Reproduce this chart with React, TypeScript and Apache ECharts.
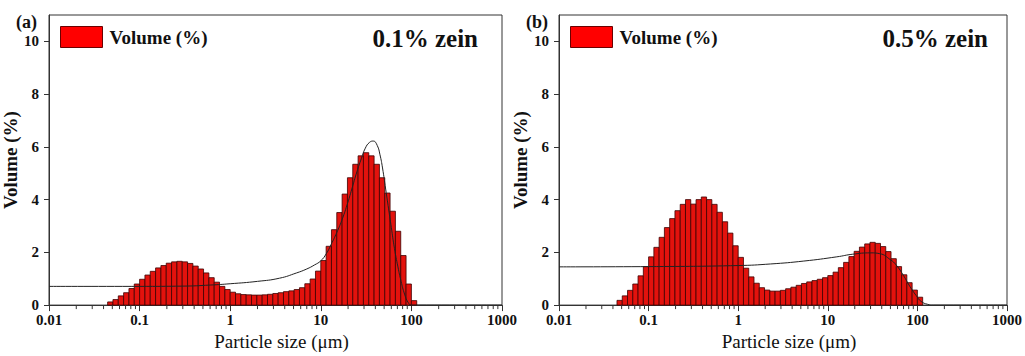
import React, { useEffect, useRef } from "react";
import * as echarts from "echarts";

// Size-class edges (µm) of the histogram bins
const sizeEdges = [
  0.04437, 0.0508, 0.05817, 0.06661, 0.07627, 0.08733,
  0.1, 0.1145, 0.1311, 0.1501, 0.1719, 0.1968, 0.2254, 0.2581, 0.2955, 0.3384,
  0.3875, 0.4437, 0.508, 0.5817, 0.6661, 0.7627, 0.8734,
  1, 1.145, 1.311, 1.501, 1.719, 1.968, 2.254, 2.581, 2.955, 3.384,
  3.875, 4.437, 5.08, 5.817, 6.661, 7.627, 8.734,
  10, 11.45, 13.11, 15.01, 17.19, 19.68, 22.54, 25.81, 29.55, 33.84,
  38.75, 44.37, 50.8, 58.17, 66.61, 76.27, 87.34,
  100, 114.5,
];

// Volume (%) per size class – panel (a) 0.1% zein
const volumeA = [
  0.12, 0.21, 0.35, 0.47, 0.63, 0.8,
  0.98, 1.14, 1.28, 1.41, 1.5, 1.59, 1.64, 1.66, 1.64, 1.58,
  1.48, 1.37, 1.22, 1.04, 0.87, 0.71, 0.59,
  0.49, 0.43, 0.4, 0.39, 0.38, 0.38, 0.39, 0.41, 0.44, 0.47,
  0.51, 0.54, 0.59, 0.66, 0.81, 0.99, 1.29,
  1.69, 2.23, 2.86, 3.51, 4.21, 4.83, 5.34, 5.66, 5.78, 5.66,
  5.34, 4.83, 4.25, 3.56, 2.8, 1.88, 0.8,
  0.17,
];

// Volume (%) per size class – panel (b) 0.5% zein
const volumeB = [
  0.18, 0.35, 0.56, 0.8, 1.11, 1.46,
  1.83, 2.19, 2.57, 2.94, 3.28, 3.58, 3.82, 4.0, 3.83, 4.0,
  4.1, 4.0, 3.82, 3.52, 3.16, 2.73, 2.25,
  1.81, 1.4, 1.07, 0.83, 0.66, 0.57, 0.53, 0.53, 0.56, 0.62,
  0.68, 0.75, 0.82, 0.88, 0.93, 0.98, 1.04,
  1.12, 1.25, 1.42, 1.62, 1.84, 2.04, 2.2, 2.32, 2.38, 2.34,
  2.22, 2.03, 1.76, 1.46, 1.15, 0.85, 0.57,
  0.3,
];

// Fitted curves [size µm, volume %]
const fitA: [number, number][] = [
  [0.01, 0.71], [0.1, 0.71], [0.3, 0.72], [0.6, 0.76], [1, 0.81], [2, 0.9],
  [3.5, 1.02], [5.4, 1.22], [7, 1.37], [8.5, 1.52], [10, 1.68], [11.5, 1.95],
  [13, 2.3], [15, 2.75], [17, 3.2], [19.5, 3.8], [22, 4.4], [25, 5.05],
  [28, 5.55], [31, 5.95], [34.5, 6.17], [38, 6.22], [42, 6.05], [45, 5.7],
  [48, 5.2], [52, 4.4], [56, 3.65], [60, 2.95], [65, 2.15], [71, 1.45],
  [77, 0.9], [84, 0.42], [92, 0.1], [100, 0], [120, 0], [1000, 0],
];
const fitB: [number, number][] = [
  [0.01, 1.45], [0.1, 1.46], [1, 1.5], [2.3, 1.56], [5.4, 1.67], [12.6, 1.83],
  [19, 1.93], [30, 1.98], [38, 1.95], [50, 1.72], [58, 1.52], [70, 1.12],
  [82, 0.72], [97, 0.36], [110, 0.14], [130, 0.03], [150, 0], [1000, 0],
];

const xTickLabels = ["0.01", "0.1", "1", "10", "100", "1000"];
const yTickValues = [0, 2, 4, 6, 8, 10];
const minorTickValues = [
  0.02, 0.03, 0.04, 0.05, 0.06, 0.07, 0.08, 0.09,
  0.2, 0.3, 0.4, 0.5, 0.6, 0.7, 0.8, 0.9,
  2, 3, 4, 5, 6, 7, 8, 9,
  20, 30, 40, 50, 60, 70, 80, 90,
  200, 300, 400, 500, 600, 700, 800, 900,
];
const panelLabels = ["(a)", "(b)"];
const panelTitles = ["0.1% zein", "0.5% zein"];
const seriesName = "Volume (%)";
const xName = "Particle size (\u03bcm)";
const yName = "Volume (%)";

const FONT = "Liberation Serif, Times New Roman, serif";

export default function App() {
  const ref = useRef<HTMLDivElement>(null);

  useEffect(() => {
    if (!ref.current) return;
    const chart = echarts.init(ref.current, null, { renderer: "svg" });

    const panels = [
      { left: 49, volume: volumeA, fit: fitA },
      { left: 559, volume: volumeB, fit: fitB },
    ];

    const grids = panels.map((p) => ({
      left: p.left,
      top: 15,
      width: 453,
      height: 304,
      show: true,
      borderColor: "#333",
      borderWidth: 1,
      backgroundColor: "transparent",
    }));

    const xAxes = panels.map((_, i) => ({
      type: "log",
      logBase: 10,
      gridIndex: i,
      min: 0.01,
      max: 1000,
      name: xName,
      nameLocation: "middle",
      nameGap: 16,
      nameTextStyle: {
        fontFamily: FONT,
        fontSize: 19,
        color: "#111",
        padding: [0, 0, 0, 12],
      },
      axisLine: { show: true, lineStyle: { color: "#333", width: 1 } },
      axisTick: { show: true, inside: false, length: 6, lineStyle: { color: "#333" } },
      axisLabel: {
        margin: 7,
        fontFamily: FONT,
        fontWeight: "bold",
        fontSize: 15,
        color: "#111",
        formatter: (v: number) => xTickLabels[Math.round(Math.log10(v)) + 2] ?? "",
      },
      splitLine: { show: false },
    }));

    const yAxes = panels.map((_, i) => ({
      type: "value",
      gridIndex: i,
      min: 0,
      max: 11,
      name: yName,
      nameLocation: "middle",
      nameGap: 21,
      nameRotate: 90,
      nameTextStyle: {
        fontFamily: FONT,
        fontWeight: "bold",
        fontSize: 19,
        color: "#111",
      },
      axisLine: { show: true, lineStyle: { color: "#333", width: 1 } },
      axisTick: {
        show: true,
        inside: false,
        length: 5,
        customValues: yTickValues,
        lineStyle: { color: "#333" },
      },
      axisLabel: {
        margin: 10,
        customValues: yTickValues,
        fontFamily: FONT,
        fontWeight: "bold",
        fontSize: 15,
        color: "#111",
      },
      splitLine: { show: false },
    }));

    const series: any[] = [];
    panels.forEach((p, i) => {
      series.push({
        type: "custom",
        name: seriesName,
        xAxisIndex: i,
        yAxisIndex: i,
        data: p.volume.map((v, k) => [sizeEdges[k], sizeEdges[k + 1], v]),
        encode: { x: [0, 1], y: 2 },
        itemStyle: { color: "#ff0000", borderColor: "#6b0000", borderWidth: 1 },
        renderItem: (_params: any, api: any) => {
          const p0 = api.coord([api.value(0), api.value(2)]);
          const p1 = api.coord([api.value(1), 0]);
          return {
            type: "rect",
            shape: {
              x: p0[0],
              y: p0[1],
              width: p1[0] - p0[0],
              height: p1[1] - p0[1],
            },
            style: { fill: "#e3120d", stroke: "#3d0000", lineWidth: 0.8 },
          };
        },
        z: 2,
      });
      series.push({
        type: "custom",
        xAxisIndex: i,
        yAxisIndex: i,
        silent: true,
        clip: false,
        data: minorTickValues.map((v) => [v, 0]),
        encode: { x: 0, y: 1 },
        renderItem: (_params: any, api: any) => {
          const c = api.coord([api.value(0), 0]);
          return {
            type: "line",
            shape: { x1: c[0], y1: c[1], x2: c[0], y2: c[1] + 4 },
            style: { stroke: "#333", lineWidth: 1 },
          };
        },
        z: 3,
      });
      series.push({
        type: "line",
        xAxisIndex: i,
        yAxisIndex: i,
        data: p.fit,
        showSymbol: false,
        smooth: 0.5,
        lineStyle: { color: "#222", width: 1 },
        silent: true,
        z: 5,
      });
    });

    const legends = panels.map((p) => ({
      left: p.left + 11,
      top: 26,
      padding: 0,
      itemWidth: 42,
      itemHeight: 21,
      itemGap: 10,
      selectedMode: false,
      data: [
        {
          name: seriesName,
          icon: "rect",
          itemStyle: { color: "#ff0000", borderColor: "#6b0000", borderWidth: 1 },
        },
      ],
      textStyle: {
        fontFamily: FONT,
        fontWeight: "bold",
        fontSize: 19,
        color: "#111",
        padding: [0, 0, 0, 2],
      },
    }));

    const graphics: any[] = [];
    panels.forEach((p, i) => {
      graphics.push({
        type: "text",
        left: p.left - 33,
        top: 13,
        style: {
          text: panelLabels[i],
          font: `bold 18px ${FONT}`,
          fill: "#111",
        },
      });
      graphics.push({
        type: "text",
        right: 1025 - (p.left + 429),
        top: 26,
        style: {
          text: panelTitles[i],
          font: `bold 25px ${FONT}`,
          fill: "#111",
        },
      });
    });

    chart.setOption({
      animation: false,
      backgroundColor: "#fff",
      grid: grids,
      xAxis: xAxes,
      yAxis: yAxes,
      legend: legends,
      graphic: graphics,
      series,
    });

    return () => chart.dispose();
  }, []);

  return (
    <div
      ref={ref}
      style={{ position: "fixed", left: 0, top: 0, width: 1025, height: 356 }}
    />
  );
}
